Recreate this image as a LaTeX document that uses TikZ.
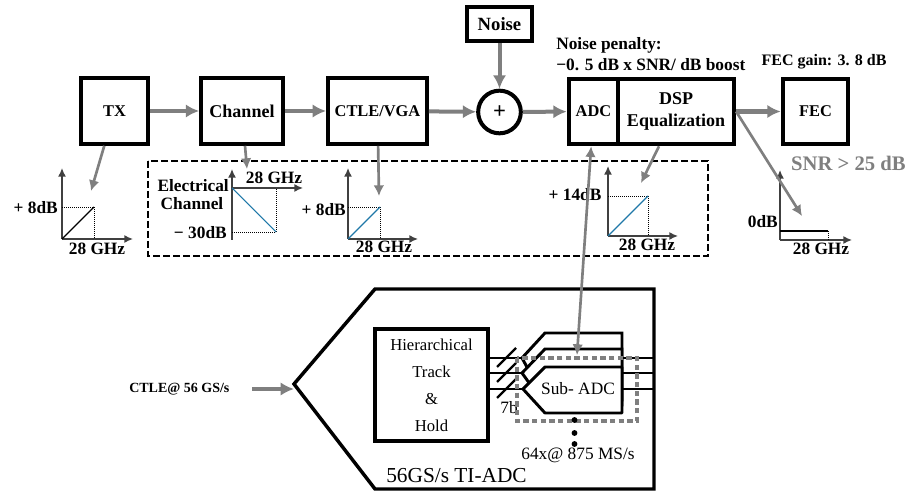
\documentclass[tikz,border=0pt]{standalone}
\usepackage{fontspec}
\setmainfont{Liberation Serif}
\usetikzlibrary{arrows.meta,positioning}
\definecolor{arrgray}{HTML}{7F7F7F}
\definecolor{curveblue}{HTML}{1F78A8}

\begin{document}
\begin{tikzpicture}[
  x=0.75pt,y=-0.75pt,
  box/.style={draw,line width=3.2pt,fill=white,inner sep=0pt,align=center,font=\bfseries\fontsize{12.3}{16.5}\selectfont},
  lab/.style={font=\bfseries\fontsize{13}{15}\selectfont,inner sep=0pt},
  thin lab/.style={font=\fontsize{13}{15}\selectfont,inner sep=0pt},
  arr/.style={-{Latex[length=10pt,width=10pt]},arrgray,line width=3pt},
  ptr/.style={-{Latex[length=8pt,width=8pt]},arrgray,line width=2pt},
  axis/.style={-{Latex[length=6.5pt,width=6pt]},line width=1.1pt,draw=black!75},
  guide/.style={densely dotted,line width=0.5pt},
  wire/.style={line width=2.2pt}
]
  \useasboundingbox (0,0) rectangle (907,491);

  % top chain
  \node[box,minimum width=50pt,minimum height=49pt] (tx) at (114.5,111) {TX};
  \node[box,minimum width=61pt,minimum height=49pt,font=\bfseries\fontsize{13.5}{16.5}\selectfont] (chan) at (242,111) {Channel};
  \node[box,minimum width=74pt,minimum height=49pt] (ctle) at (377.5,111) {CTLE/VGA};
  \node[box,minimum width=49pt,minimum height=25.5pt,font=\bfseries\fontsize{14}{16}\selectfont] (noise) at (499.5,24) {Noise};
  \node[draw,circle,line width=3pt,fill=white,minimum size=32pt,inner sep=0pt,font=\bfseries\fontsize{17}{17}\selectfont] (sum) at (499.5,112) {+};
  \node[box,minimum width=37pt,minimum height=49pt] (adc) at (593.5,111.5) {ADC};
  \node[box,minimum width=87pt,minimum height=49pt,font=\bfseries\fontsize{13.5}{16.5}\selectfont] (dsp) at (676,111.5) {DSP\\Equalization};
  \node[box,minimum width=49pt,minimum height=49pt] (fec) at (815.5,111.5) {FEC};

  \draw[arr] (tx) -- (chan);
  \draw[arr] (chan) -- (ctle);
  \draw[arr] (ctle) -- (sum);
  \draw[arr] (noise) -- (sum);
  \draw[arr] (sum) -- (adc);
  \draw[arr,line width=4pt] (dsp) -- (fec);

  \node[lab,anchor=west] (penalty) at (556,45) {Noise penalty:};
  \node[lab,anchor=west] (boost) at (556,65) {−0. 5 dB x SNR/ dB boost};
  \node[lab,font=\bfseries\fontsize{12}{14}\selectfont] (gain) at (824,62) {FEC gain: 3. 8 dB};
  \node[lab,text=arrgray,anchor=east,font=\bfseries\fontsize{15.5}{17}\selectfont] (snr) at (906,163) {SNR > 25 dB};

  % equalizer group
  \draw[dash pattern=on 5pt off 2.5pt,line width=1.5pt] (148,161) rectangle (708,256);

  % TX response
  \draw[axis] (62,239) -- (62,168);
  \draw[axis] (62,239) -- (133,239);
  \draw[guide] (62,207) -- (94,207) -- (94,239);
  \draw[line width=0.8pt] (62,239) -- (94,207);
  \node[lab,anchor=east] (txgain) at (58,208) {+ 8dB};
  \node[lab] (txfreq) at (97,249) {28 GHz};
  \coordinate (txtip) at (91,191);
  \draw[ptr] (tx) -- (txtip);

  % channel response
  \draw[axis] (232,240) -- (232,169);
  \draw[axis] (232,188) -- (303,188);
  \draw[guide] (232,232) -- (276,232) -- (276,188);
  \draw[curveblue,line width=0.8pt] (232,188) -- (276,232);
  \node[lab] (chanfreq) at (274,178) {28 GHz};
  \node[lab,anchor=east] (channame) at (229,186) {Electrical};
  \node[lab] (channame2) at (192,204) {Channel};
  \node[lab,anchor=east] (chanloss) at (227,233) {− 30dB};
  \coordinate (chantip) at (247,169);
  \draw[ptr] (chan) -- (chantip);

  % CTLE response
  \draw[axis] (348,239) -- (348,168);
  \draw[axis] (348,239) -- (418,239);
  \draw[guide] (348,207) -- (380,207) -- (380,239);
  \draw[curveblue,line width=0.8pt] (348,239) -- (380,207);
  \node[lab,anchor=east] (ctlegain) at (346,210) {+ 8dB};
  \node[lab] (ctlefreq) at (384,247) {28 GHz};
  \coordinate (ctletip) at (379,196);
  \draw[ptr] (ctle) -- (ctletip);

  % DSP response
  \draw[axis] (608,236) -- (608,166);
  \draw[axis] (608,236) -- (678,236);
  \draw[guide] (608,196) -- (648,196) -- (648,236);
  \draw[curveblue,line width=0.8pt] (608,236) -- (648,196);
  \node[lab] (dspgain) at (575,195) {+ 14dB};
  \node[lab] (dspfreq) at (647,245) {28 GHz};
  \coordinate (dsptip) at (641,183);
  \draw[ptr] (dsp) -- (dsptip);

  % FEC response
  \draw[axis] (780,240) -- (780,170);
  \draw[axis] (780,240) -- (852,240);
  \draw[line width=0.8pt] (780,231) -- (828,231);
  \draw[guide] (828,231) -- (828,240);
  \node[lab,anchor=east] (fecgain) at (778,222) {0dB};
  \node[lab] (fecfreq) at (821,249) {28 GHz};
  \coordinate (fectip) at (802,216);
  \draw[ptr] (dsp.east) -- (fectip);

  % TI-ADC
  \draw[line width=2.6pt,line join=miter] (654,289) -- (375,289) -- (294,384) -- (375,489) -- (654,489) -- cycle;
  \node[thin lab,font=\fontsize{16}{18}\selectfont,anchor=west] (ticap) at (386,476) {56GS/s TI-ADC};
  \node[box,minimum width=85pt,minimum height=84pt,font=\fontsize{12.5}{20.2}\selectfont] (tah) at (431.5,385) {Hierarchical\\Track\\\&\\Hold};

  \node[lab,anchor=west,font=\bfseries\fontsize{10.5}{12}\selectfont] (ctlein) at (129,389) {CTLE@ 56 GS/s};
  \coordinate (titip) at (294,389);
  \draw[arr] (252,389) -- (titip);

  % interleaved slices
  \draw[wire] (488,358) -- (654,358);
  \draw[wire] (488,373) -- (654,373);
  \draw[wire] (488,389) -- (654,389);
  \draw[wire,fill=white] (522,358) -- (545,333) -- (622,333) -- (622,400) -- (545,400) -- cycle;
  \draw[wire,fill=white] (522,373) -- (545,349) -- (622,349) -- (622,405) -- (545,405) -- cycle;
  \draw[wire,fill=white,line join=round] (523,389) -- (545,367) -- (622,367) -- (622,413) -- (545,413) -- cycle;
  \foreach \ypos in {367,382,398}
    \draw[line width=1.6pt] (497,\ypos) -- ++(19,-19);
  \node[thin lab] (subadc) at (578,389) {Sub- ADC};
  \node[thin lab] (bits) at (509,408) {7b};
  \draw[draw=arrgray,dash pattern=on 4pt off 2.5pt,line width=2.6pt] (517,358) rectangle (637,421);
  \foreach \ypos in {420,433,444}
    \fill (574.5,\ypos) circle (2.2pt);
  \node[thin lab] (slices) at (578,455) {64x@ 875 MS/s};

  \coordinate (subin) at (577,355);
  \draw[ptr,{Latex[length=8pt,width=8pt]}-{Latex[length=8pt,width=8pt]}] (adc) -- (subin);
\end{tikzpicture}
\end{document}
